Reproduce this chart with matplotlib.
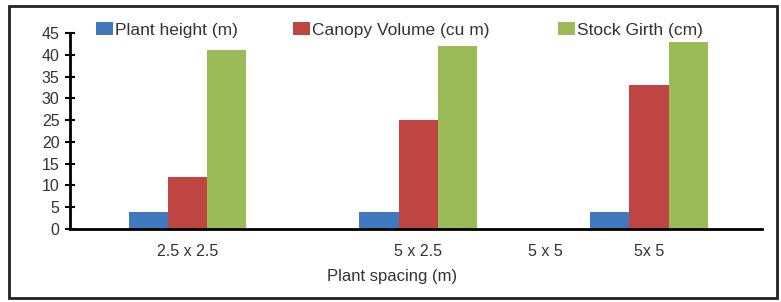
import matplotlib.pyplot as plt
import numpy as np
from matplotlib.patches import Rectangle

# data
spacings = ['2.5 x 2.5', '5 x 2.5', '5x 5']
series_names = ['Plant height (m)', 'Canopy Volume (cu m)', 'Stock Girth (cm)']
plant_height = [4, 4, 4]
canopy_volume = [12, 25, 33]
stock_girth = [41, 42, 43]
colors = ['#4179BE', '#BE4542', '#9BBB59']

plt.rcParams['font.family'] = ['Liberation Sans', 'DejaVu Sans']
text_color = '#333333'

fig = plt.figure(figsize=(7.81, 3.02), dpi=100)
ax = fig.add_axes([70 / 781, 1 - 229 / 302, 692 / 781, 196 / 302])

x = np.arange(len(spacings))
width = 0.17
bars = []
for i, (vals, name) in enumerate(zip([plant_height, canopy_volume, stock_girth], series_names)):
    bars.append(ax.bar(x + (i - 1) * width, vals, width, color=colors[i], label=name, zorder=2))

ax.set_xlim(-0.51, 2.49)
ax.set_ylim(0, 45)
ax.set_yticks(range(0, 46, 5))
ax.set_xticks(x)
ax.set_xticklabels(spacings)
ax.tick_params(axis='y', direction='inout', length=7, width=1.5, labelsize=11.5,
               labelcolor=text_color, pad=4)
ax.tick_params(axis='x', length=0, labelsize=11.5, labelcolor=text_color, pad=11)
for s in ['top', 'right']:
    ax.spines[s].set_visible(False)
ax.spines['left'].set_linewidth(2)
ax.spines['bottom'].set_linewidth(2)

# stray category label between the second and third groups
fig.text(545 / 781, 1 - 251 / 302, '5 x 5', ha='center', va='center',
         fontsize=11.5, color=text_color)
fig.text(392 / 781, 1 - 277 / 302, 'Plant spacing (m)', ha='center', va='center',
         fontsize=12, color=text_color)

# one legend entry per series, placed where the reference has them
legend_x = [96, 293, 558]
for bc, name, lx in zip(bars, series_names, legend_x):
    leg = fig.legend([bc], [name], loc='center left',
                     bbox_to_anchor=(lx / 781, 1 - 30 / 302), frameon=False,
                     fontsize=12.5, handlelength=1.0, handleheight=0.7,
                     handletextpad=0.1, borderpad=0, borderaxespad=0,
                     labelcolor=text_color)

# outer frame
fig.patches.append(Rectangle((9 / 781, 4 / 302), 768 / 781, 292 / 302,
                             transform=fig.transFigure, fill=False,
                             edgecolor='#222222', linewidth=2))

fig.savefig('out.png', dpi=100)
